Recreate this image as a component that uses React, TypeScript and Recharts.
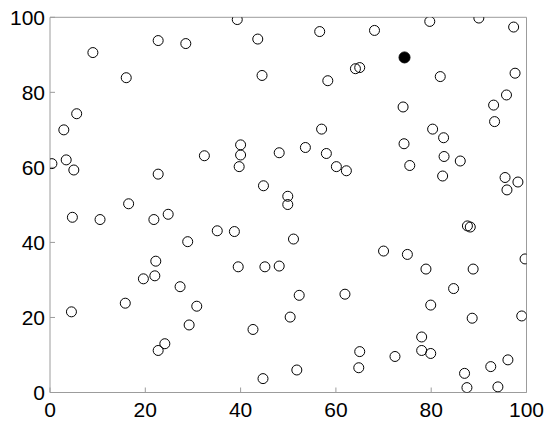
import React from 'react';
import { ScatterChart, Scatter, XAxis, YAxis } from 'recharts';

const xValues = [
  0.4, 2.9, 3.4, 5.0, 5.6, 9.0, 16.0, 22.7, 28.5, 39.3, 43.6, 44.5, 32.4, 40.0, 40.0, 39.7, 22.7, 44.8, 48.1, 16.5,
  4.7, 10.5, 21.8, 24.8, 35.1, 38.7, 28.9, 22.2, 22.0, 19.6, 27.3, 39.5, 45.1, 48.1, 15.8, 4.5, 30.8, 29.2, 42.6, 24.1,
  22.7, 44.7, 56.6, 68.1, 79.7, 90.0, 97.3, 64.1, 65.0, 58.3, 81.9, 97.6, 95.8, 93.1, 93.3, 74.1, 57.0, 53.6, 58.0, 60.1,
  62.2, 74.3, 75.5, 80.3, 82.6, 82.7, 86.1, 82.4, 95.5, 98.2, 95.9, 49.9, 49.9, 87.6, 88.2, 51.1, 99.7, 70.0, 75.0, 78.9,
  88.8, 52.3, 61.9, 84.7, 79.9, 50.4, 88.6, 99.0, 78.0, 78.0, 79.9, 72.4, 65.0, 64.8, 51.8, 96.1, 92.5, 87.0, 87.5, 94.0,
];
const yValues = [
  61.0, 70.0, 62.0, 59.3, 74.3, 90.6, 83.9, 93.8, 93.0, 99.4, 94.2, 84.5, 63.1, 66.0, 63.3, 60.2, 58.2, 55.1, 63.9, 50.3,
  46.7, 46.1, 46.1, 47.5, 43.1, 42.9, 40.2, 35.0, 31.1, 30.3, 28.2, 33.5, 33.5, 33.7, 23.8, 21.5, 23.0, 18.0, 16.8, 13.0,
  11.2, 3.7, 96.2, 96.5, 98.9, 99.8, 97.4, 86.3, 86.6, 83.1, 84.2, 85.1, 79.3, 76.6, 72.2, 76.1, 70.2, 65.3, 63.7, 60.2,
  59.1, 66.3, 60.5, 70.2, 67.9, 62.9, 61.7, 57.7, 57.3, 56.1, 54.0, 52.3, 50.1, 44.4, 44.1, 40.9, 35.6, 37.7, 36.8, 32.9,
  32.9, 25.9, 26.2, 27.7, 23.3, 20.1, 19.8, 20.4, 14.8, 11.2, 10.4, 9.6, 10.9, 6.6, 6.0, 8.7, 6.9, 5.1, 1.3, 1.5,
];
const highlightX = [74.4];
const highlightY = [89.3];
const tickValues = [0, 20, 40, 60, 80, 100];

const points = xValues.map((x, i) => ({ x, y: yValues[i] }));
const highlight = highlightX.map((x, i) => ({ x, y: highlightY[i] }));

const AXIS = '#9c9c9c';
const FONT = '"Liberation Sans", Arial, sans-serif';

const Hollow = (props: any) => (
  <circle cx={props.cx} cy={props.cy} r={5} fill="none" stroke="#000" strokeWidth={1} />
);
const Filled = (props: any) => (
  <circle cx={props.cx} cy={props.cy} r={5.5} fill="#000" stroke="#000" strokeWidth={1} />
);

export default function App() {
  const tickStyle = { fill: '#000', fontSize: 21, fontFamily: FONT };
  return (
    <div style={{ position: 'absolute', left: 0, top: 0, width: 550, height: 424, background: '#fff' }}>
      <ScatterChart width={550} height={424} margin={{ top: 12, right: 18.5, bottom: 1.5, left: 10 }}>
        <XAxis
          xAxisId="b"
          dataKey="x"
          type="number"
          domain={[0, 100]}
          ticks={tickValues}
          orientation="bottom"
          height={30}
          tickSize={-5}
          tickMargin={14.5}
          stroke={AXIS}
          tickLine={{ stroke: AXIS }}
          axisLine={{ stroke: AXIS }}
          tick={tickStyle}
          allowDataOverflow
        />
        <XAxis
          xAxisId="t"
          type="number"
          domain={[0, 100]}
          ticks={tickValues}
          orientation="top"
          height={5.3}
          tickSize={-5}
          stroke={AXIS}
          tickLine={{ stroke: AXIS }}
          axisLine={{ stroke: AXIS }}
          tick={false}
          allowDataOverflow
        />
        <YAxis
          yAxisId="l"
          dataKey="y"
          type="number"
          domain={[0, 100]}
          ticks={tickValues}
          orientation="left"
          width={40}
          tickSize={-5}
          tickMargin={10}
          stroke={AXIS}
          tickLine={{ stroke: AXIS }}
          axisLine={{ stroke: AXIS }}
          tick={tickStyle}
          allowDataOverflow
        />
        <YAxis
          yAxisId="r"
          type="number"
          domain={[0, 100]}
          ticks={tickValues}
          orientation="right"
          width={5}
          tickSize={-5}
          stroke={AXIS}
          tickLine={{ stroke: AXIS }}
          axisLine={{ stroke: AXIS }}
          tick={false}
          allowDataOverflow
        />
        <Scatter xAxisId="b" yAxisId="l" data={points} shape={Hollow} isAnimationActive={false} />
        <Scatter xAxisId="b" yAxisId="l" data={highlight} shape={Filled} isAnimationActive={false} />
      </ScatterChart>
    </div>
  );
}
